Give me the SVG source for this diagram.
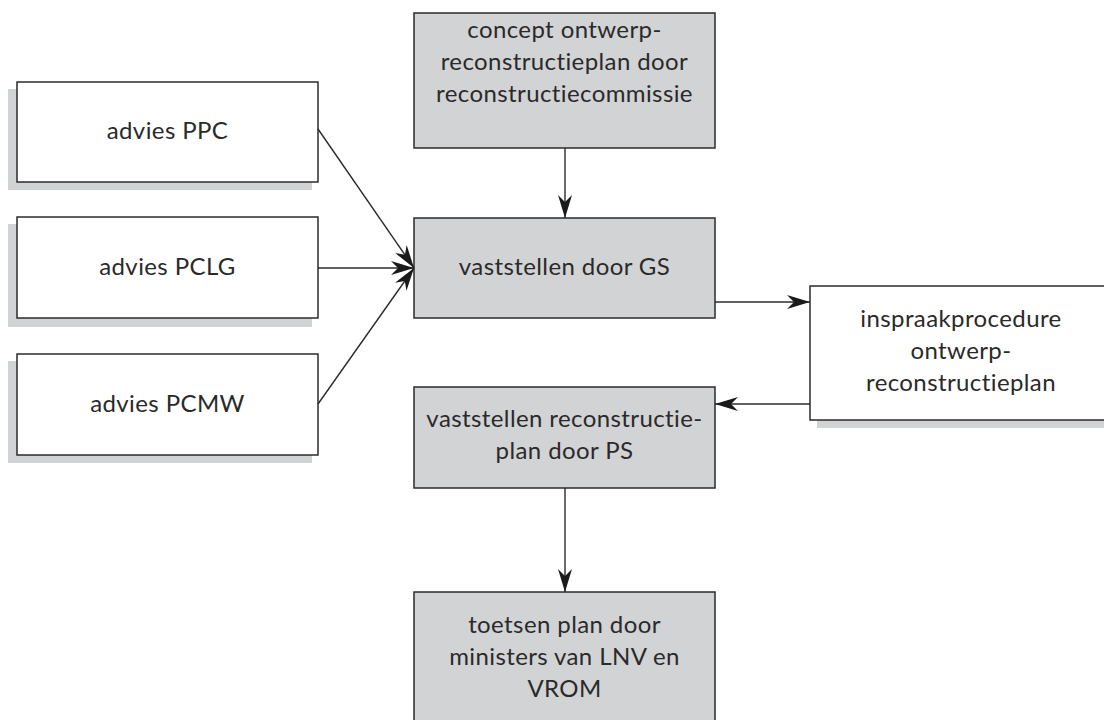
<svg xmlns="http://www.w3.org/2000/svg" width="1104" height="720" viewBox="0 0 1104 720">
<style>
.box{stroke:#2b2b2b;stroke-width:1.5}
.w{fill:#ffffff}
.g{fill:#d2d3d5}
.sh{fill:#d2d3d5}
.t{font-family:Lato,"Liberation Sans",sans-serif;font-size:24px;letter-spacing:0.4px;font-variant-ligatures:none;fill:#2a2a2a;text-anchor:middle}
.c{stroke:#2b2b2b;stroke-width:1.4;fill:none;marker-end:url(#ah)}
</style>
<defs>
<marker id="ah" markerUnits="userSpaceOnUse" viewBox="-24 -8 26 16" markerWidth="26" markerHeight="16" refX="0" refY="0" orient="auto">
<path d="M0,0 L-23,-7 L-16,0 L-23,7 Z" fill="#1a1a1a"/>
</marker>
</defs>
<rect width="1104" height="720" fill="#ffffff"/>
<g id="node-ppc">
<rect class="sh" x="8" y="89" width="304" height="101"/>
<rect class="box w" x="17" y="82" width="301" height="100"/>
<text class="t" x="167.5" y="139">advies PPC</text>
</g>
<g id="node-pclg">
<rect class="sh" x="8" y="224" width="304" height="103"/>
<rect class="box w" x="17" y="217" width="301" height="101"/>
<text class="t" x="167.5" y="275">advies PCLG</text>
</g>
<g id="node-pcmw">
<rect class="sh" x="8" y="361" width="304" height="102"/>
<rect class="box w" x="17" y="354" width="301" height="101"/>
<text class="t" x="167.5" y="412">advies PCMW</text>
</g>
<g id="node-concept">
<rect class="box g" x="414" y="13" width="301" height="135"/>
<text class="t" x="564.5" y="38">concept ontwerp-</text>
<text class="t" x="564.5" y="70">reconstructieplan door</text>
<text class="t" x="564.5" y="102">reconstructiecommissie</text>
</g>
<g id="node-gs">
<rect class="box g" x="414" y="218" width="301" height="100"/>
<text class="t" x="564.5" y="275">vaststellen door GS</text>
</g>
<g id="node-inspraak">
<rect class="sh" x="817" y="294" width="300" height="134"/>
<rect class="box w" x="810" y="286" width="301" height="134"/>
<text class="t" x="961" y="327">inspraakprocedure</text>
<text class="t" x="961" y="359">ontwerp-</text>
<text class="t" x="961" y="391">reconstructieplan</text>
</g>
<g id="node-ps">
<rect class="box g" x="414" y="387" width="301" height="101"/>
<text class="t" x="564.5" y="427">vaststellen reconstructie-</text>
<text class="t" x="564.5" y="459">plan door PS</text>
</g>
<g id="node-toetsen">
<rect class="box g" x="414" y="592" width="301" height="140"/>
<text class="t" x="564.5" y="633">toetsen plan door</text>
<text class="t" x="564.5" y="665">ministers van LNV en</text>
<text class="t" x="564.5" y="697">VROM</text>
</g>
<g id="connectors">
<line class="c" x1="318" y1="129" x2="414" y2="268"/>
<line class="c" x1="318" y1="268" x2="414" y2="268"/>
<line class="c" x1="318" y1="404" x2="414" y2="268"/>
<line class="c" x1="565" y1="148" x2="565" y2="218"/>
<line class="c" x1="715" y1="302" x2="810" y2="302"/>
<line class="c" x1="810" y1="404" x2="715" y2="404"/>
<line class="c" x1="565" y1="488" x2="565" y2="592"/>
</g>
</svg>
